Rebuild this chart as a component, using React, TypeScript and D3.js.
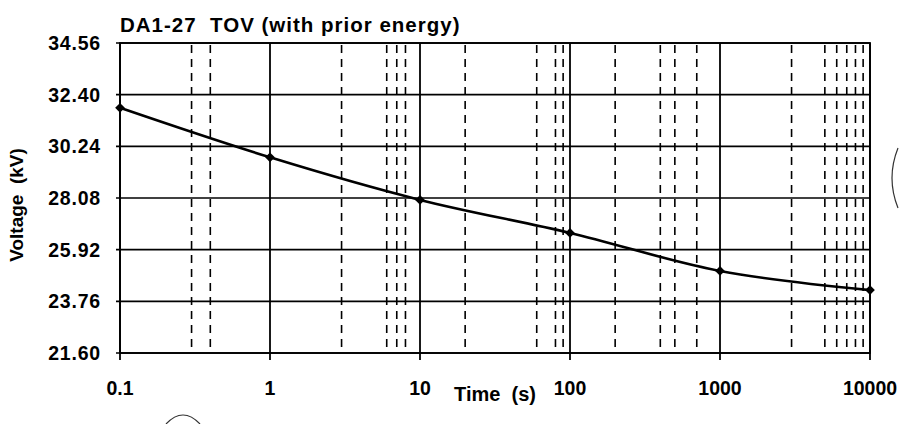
import React from "react";
import * as d3 from "d3";

const times = [0.1, 1, 10, 100, 1000, 10000];
const volts = [31.85, 29.78, 28.0, 26.62, 25.03, 24.23];
const yTicks = [21.6, 23.76, 25.92, 28.08, 30.24, 32.4, 34.56];
const xTicks = [0.1, 1, 10, 100, 1000, 10000];
const xTickLabels = ["0.1", "1", "10", "100", "1000", "10000"];
const minorTicks = [0.3, 0.4, 3, 6, 7, 8, 20, 60, 80, 90, 200, 400, 500, 700, 3000, 5000, 6000, 7000, 8000, 9000];
const title = "DA1-27  TOV (with prior energy)";
const xTitle = "Time  (s)";
const yTitle = "Voltage  (kV)";

export default function App() {
  const W = 900, H = 424;
  const left = 120, right = 870, top = 43, bottom = 353;
  const x = d3.scaleLog().domain([0.1, 10000]).range([left, right]);
  const y = d3.scaleLinear().domain([21.6, 34.56]).range([bottom, top]);
  const data = times.map((t, i) => [t, volts[i]] as [number, number]);
  const line = d3.line<[number, number]>()
    .x(d => x(d[0]))
    .y(d => y(d[1]))
    .curve(d3.curveCatmullRom.alpha(0.5));
  const font = "'Liberation Sans', Arial, sans-serif";
  const diamond = d3.symbol().type(d3.symbolDiamond2).size(60)();
  return (
    <svg width={W} height={H} style={{ position: "absolute", left: 0, top: 0, background: "#fff" }}
      fontFamily={font} fontWeight="bold">
      <rect x={0} y={0} width={W} height={H} fill="#fff" />
      {minorTicks.map((t, i) => (
        <line key={"m" + i} x1={x(t)} x2={x(t)} y1={top + 2} y2={bottom - 4}
          stroke="#000" strokeWidth={1.6} strokeDasharray="8,6" />
      ))}
      {yTicks.map((v, i) => (
        <line key={"h" + i} x1={left - 4} x2={right} y1={y(v)} y2={y(v)} stroke="#000" strokeWidth={1.6} />
      ))}
      {xTicks.map((t, i) => (
        <line key={"v" + i} x1={x(t)} x2={x(t)} y1={top} y2={bottom + 7} stroke="#000" strokeWidth={1.8} />
      ))}
      <rect x={left} y={top} width={right - left} height={bottom - top} fill="none" stroke="#000" strokeWidth={1.8} />
      <path d={line(data) || ""} fill="none" stroke="#000" strokeWidth={2.6} />
      {data.map((d, i) => (
        <path key={"p" + i} d={diamond || ""} transform={`translate(${x(d[0])},${y(d[1])})`} fill="#000" />
      ))}
      {yTicks.map((v, i) => (
        <text key={"yl" + i} x={101} y={y(v)} dy="0.36em" textAnchor="end" fontSize={19.5} letterSpacing={0.8}>
          {v.toFixed(2)}
        </text>
      ))}
      {xTicks.map((t, i) => (
        <text key={"xl" + i} x={x(t)} y={395} textAnchor="middle" fontSize={19.5}>
          {xTickLabels[i]}
        </text>
      ))}
      <text x={120} y={32} fontSize={20.5} letterSpacing={1} style={{ whiteSpace: "pre" }}>{title}</text>
      <text x={495} y={401} textAnchor="middle" fontSize={20} style={{ whiteSpace: "pre" }}>{xTitle}</text>
      <text transform="translate(23,205) rotate(-90)" textAnchor="middle" fontSize={19} style={{ whiteSpace: "pre" }}>{yTitle}</text>
      <path d="M898,148 Q886,178 898,208" fill="none" stroke="#333" strokeWidth={1.2} />
      <path d="M166,424 Q183,406 200,424" fill="none" stroke="#333" strokeWidth={1.2} />
    </svg>
  );
}
